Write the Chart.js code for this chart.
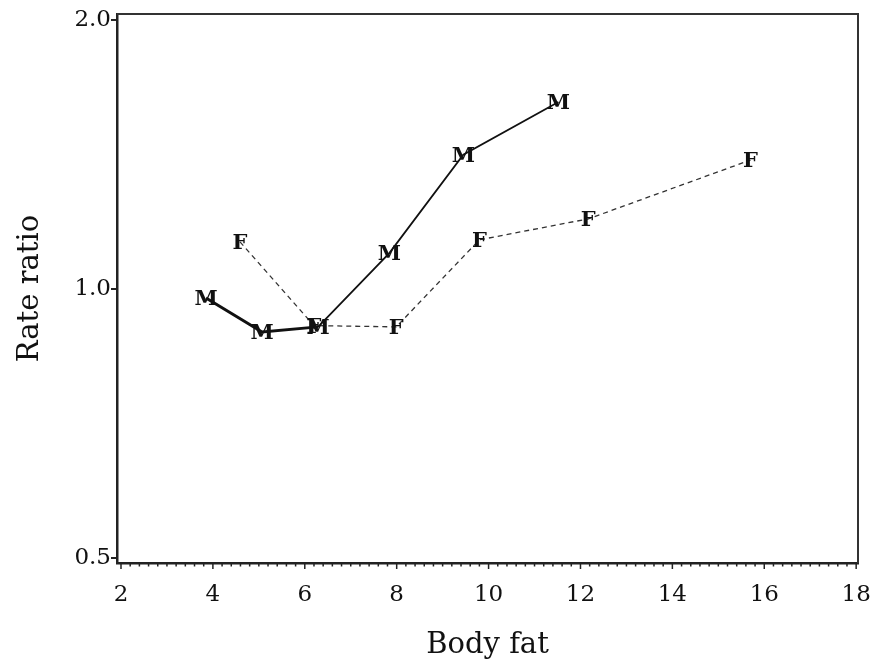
<!DOCTYPE html>
<html>
<head>
<meta charset="utf-8">
<script src="https://cdn.jsdelivr.net/npm/chart.js@4"></script>
<style>
html,body{margin:0;padding:0;background:#fff;}
#wrap{width:887px;height:667px;}
</style>
</head>
<body>
<div id="wrap"><canvas id="c" width="887" height="667"></canvas></div>
<script>
// ---- data ----
const maleX = [3.85, 5.07, 6.29, 7.84, 9.45, 11.52];
const maleY = [0.977, 0.895, 0.907, 1.097, 1.413, 1.619];
const femaleX = [4.59, 6.2, 7.99, 9.8, 12.17, 15.7];
const femaleY = [1.129, 0.91, 0.907, 1.135, 1.198, 1.394];
const maleLabel = 'M';
const femaleLabel = 'F';
const xTicks = [2, 4, 6, 8, 10, 12, 14, 16, 18];
const yTicks = [0.5, 1.0, 2.0];
const xTitle = 'Body fat';
const yTitle = 'Rate ratio';

const SERIF = '"DejaVu Serif", "Liberation Serif", serif';

const toPts = (xs, ys) => xs.map((x, i) => ({x: x, y: ys[i]}));

const letterPlugin = {
  id: 'letters',
  afterDatasetsDraw(chart) {
    const ctx = chart.ctx;
    chart.data.datasets.forEach((ds, i) => {
      const meta = chart.getDatasetMeta(i);
      ctx.save();
      ctx.font = 'bold 21px ' + SERIF;
      ctx.fillStyle = '#111';
      ctx.textAlign = 'center';
      ctx.textBaseline = 'middle';
      meta.data.forEach(el => {
        ctx.fillText(ds.letter, el.x, el.y + 1.5);
      });
      ctx.restore();
    });
  }
};

const framePlugin = {
  id: 'frame',
  afterDraw(chart) {
    const ctx = chart.ctx;
    const a = chart.chartArea;
    const xs = chart.scales.x, ys = chart.scales.y;
    ctx.save();
    ctx.strokeStyle = '#333';
    ctx.lineWidth = 2;
    ctx.beginPath();
    ctx.moveTo(a.left, a.top);
    ctx.lineTo(a.right, a.top);
    ctx.lineTo(a.right, a.bottom);
    ctx.stroke();
    // x ticks: major every 2, minor every 0.2
    ctx.strokeStyle = '#222';
    ctx.lineWidth = 1.5;
    for (let k = 0; k <= 80; k++) {
      const v = 2 + k * 0.2;
      const px = xs.getPixelForValue(v);
      const major = (k % 10 === 0);
      ctx.beginPath();
      ctx.moveTo(px, a.bottom);
      ctx.lineTo(px, a.bottom + (major ? 6 : 3.5));
      ctx.stroke();
    }
    // y ticks
    ctx.lineWidth = 2;
    yTicks.forEach(v => {
      const py = ys.getPixelForValue(v);
      ctx.beginPath();
      ctx.moveTo(a.left, py);
      ctx.lineTo(a.left - 6, py);
      ctx.stroke();
    });
    ctx.restore();
  }
};

new Chart(document.getElementById('c'), {
  type: 'line',
  data: {
    datasets: [
      {
        label: 'M',
        letter: maleLabel,
        data: toPts(maleX, maleY),
        borderColor: '#111',
        borderWidth: 2,
        pointRadius: 0,
        tension: 0,
        segment: {
          borderWidth: c => (c.p0DataIndex < 2 ? 3 : 1.8)
        }
      },
      {
        label: 'F',
        letter: femaleLabel,
        data: toPts(femaleX, femaleY),
        borderColor: '#333',
        borderWidth: 1.3,
        borderDash: [5, 4],
        pointRadius: 0,
        tension: 0
      }
    ]
  },
  options: {
    responsive: false,
    animation: false,
    devicePixelRatio: 1,
    layout: {padding: {top: 14, right: 29, left: 0, bottom: 0}},
    plugins: {legend: {display: false}, tooltip: {enabled: false}},
    scales: {
      x: {
        type: 'linear',
        min: 1.913,
        max: 18.04,
        afterBuildTicks: s => { s.ticks = xTicks.map(v => ({value: v})); },
        afterFit: s => { s.height = 104; s.paddingLeft = 0; s.paddingRight = 0; },
        grid: {display: false},
        border: {display: true, color: '#222', width: 2.5},
        ticks: {
          color: '#111',
          font: {family: SERIF, size: 23},
          padding: 10,
          maxRotation: 0,
          callback: v => String(v)
        },
        title: {
          display: true,
          text: xTitle,
          color: '#111',
          font: {family: SERIF, size: 29},
          padding: {top: 0, bottom: 4}
        }
      },
      y: {
        type: 'logarithmic',
        min: 0.4936,
        max: 2.031,
        afterBuildTicks: s => { s.ticks = yTicks.map(v => ({value: v})); },
        afterFit: s => { s.width = 117; s.paddingTop = 0; s.paddingBottom = 0; },
        grid: {display: false},
        border: {display: true, color: '#222', width: 2.5},
        ticks: {
          color: '#111',
          font: {family: SERIF, size: 23},
          padding: -2,
          callback: v => Number(v).toFixed(1)
        },
        title: {
          display: true,
          text: yTitle,
          color: '#111',
          font: {family: SERIF, size: 29},
          padding: {top: 13, bottom: 0}
        }
      }
    }
  },
  plugins: [letterPlugin, framePlugin]
});
</script>
</body>
</html>
